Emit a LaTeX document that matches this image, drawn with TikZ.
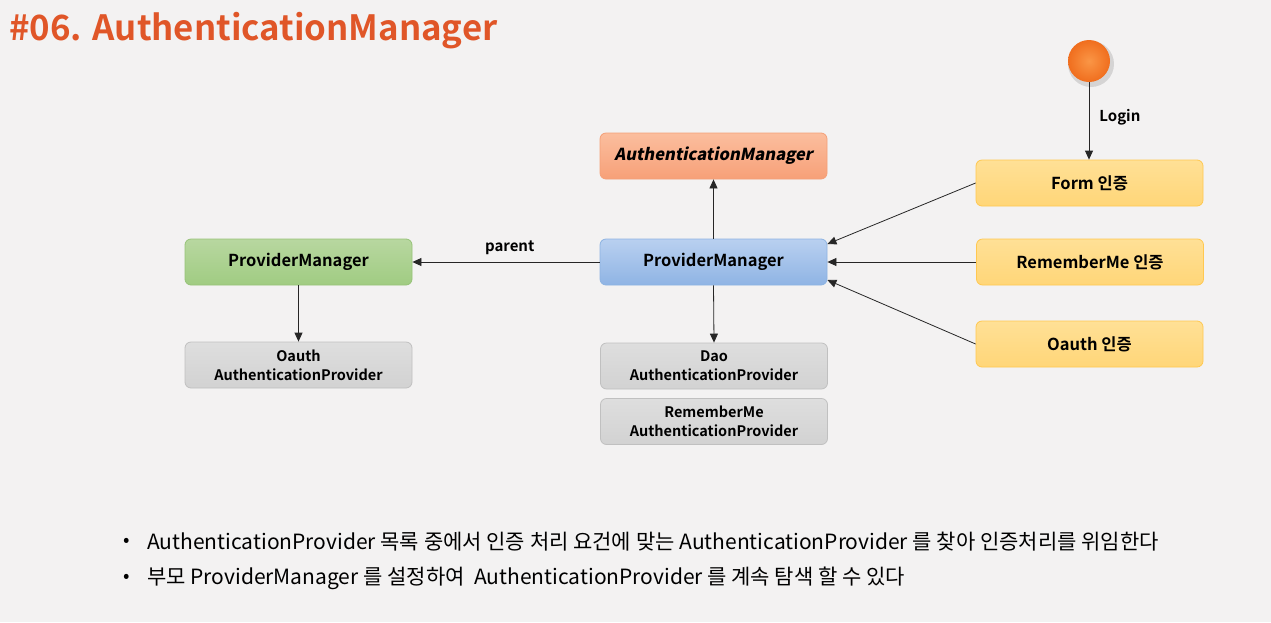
\documentclass[tikz,border=0pt]{standalone}
\usepackage{fontspec}
\setmainfont{Noto Sans CJK KR}[BoldFont=* Bold]
\newfontfamily\bifont{Noto Sans CJK KR}[UprightFont=* Bold, FakeSlant=0.2]
\usetikzlibrary{arrows.meta,shadings}
\definecolor{bgc}{RGB}{243,242,242}
\definecolor{titlec}{RGB}{224,86,40}
\definecolor{salmonT}{RGB}{251,190,158}
\definecolor{salmonB}{RGB}{247,160,120}
\definecolor{salmonD}{RGB}{244,160,120}
\definecolor{blueT}{RGB}{185,208,240}
\definecolor{blueB}{RGB}{143,180,228}
\definecolor{blueD}{RGB}{141,179,226}
\definecolor{greenT}{RGB}{184,215,160}
\definecolor{greenB}{RGB}{160,204,130}
\definecolor{greenD}{RGB}{150,195,120}
\definecolor{grayT}{RGB}{222,222,222}
\definecolor{grayB}{RGB}{210,210,210}
\definecolor{grayD}{RGB}{192,192,192}
\definecolor{yelT}{RGB}{255,224,150}
\definecolor{yelB}{RGB}{255,214,120}
\definecolor{yelD}{RGB}{255,200,80}
\definecolor{orgT}{RGB}{250,150,70}
\definecolor{orgB}{RGB}{240,110,30}
\tikzset{
  box/.style={rounded corners=6pt, minimum width=227pt, minimum height=46pt, inner sep=0pt, align=center, font=\fontsize{16.5}{19}\selectfont\bfseries, line width=0.8pt},
  salmonbox/.style={box, draw=salmonD, top color=salmonT, bottom color=salmonB},
  bluebox/.style={box, draw=blueD, top color=blueT, bottom color=blueB},
  greenbox/.style={box, draw=greenD, top color=greenT, bottom color=greenB},
  graybox/.style={box, draw=grayD, top color=grayT, bottom color=grayB, font=\fontsize{14.5}{19}\selectfont\bfseries},
  yelbox/.style={box, draw=yelD, top color=yelT, bottom color=yelB},
  conn/.style={draw=black!85, line width=0.8pt, -{Triangle[length=9pt,width=8pt]}},
  lbl/.style={font=\fontsize{15}{18}\selectfont\bfseries, inner sep=0pt},
  bul/.style={font=\fontsize{21}{24}\selectfont, anchor=west, inner sep=0pt}
}
\begin{document}
\begin{tikzpicture}[x=1pt,y=-1pt]
\fill[bgc] (0,0) rectangle (1271,622);
\useasboundingbox (0,0) rectangle (1271,622);
\node[anchor=west, inner sep=0pt, text=titlec, font=\fontsize{34.8}{40}\selectfont\bfseries] (title) at (9,31) {\#06. AuthenticationManager};
% nodes
\node[salmonbox] (am) at (713.5,156) {\bifont AuthenticationManager};
\node[bluebox] (pm) at (713.5,262) {ProviderManager};
\node[greenbox] (gpm) at (298.5,262) {ProviderManager};
\node[graybox] (oap) at (298.5,365) {Oauth\\AuthenticationProvider};
\node[graybox] (dap) at (714,366) {Dao\\AuthenticationProvider};
\node[graybox] (rap) at (714,421.5) {RememberMe\\AuthenticationProvider};
\node[yelbox] (form) at (1089.5,183) {Form 인증};
\node[yelbox] (rem) at (1090,262) {RememberMe 인증};
\node[yelbox] (oa) at (1089.5,344) {Oauth 인증};
% orange start circle
\fill[black, opacity=0.12] (1091,64) circle (23pt);
\node[circle, minimum size=42pt, inner sep=0pt, shading=radial, inner color=orgT, outer color=orgB] (start) at (1089,61) {};
% connectors
\draw[conn] (start) -- node[lbl, right=10pt, pos=0.45] {Login} (form.north -| start);
\draw[conn] (pm) -- (am);
\draw[conn] (pm) -- node[lbl, above=7pt, pos=0.48] {parent} (gpm);
\draw[conn] (gpm) -- (oap);
\draw[conn] (pm.south) -- (dap.north);
\draw[conn] (form.west) -- ([yshift=18pt]pm.east);
\draw[conn] (rem.west) -- (pm.east);
\draw[conn] (oa.west) -- ([yshift=-18pt]pm.east);
% bullets
\node[bul] (b1) at (147,542) {AuthenticationProvider 목록 중에서 인증 처리 요건에 맞는 AuthenticationProvider 를 찾아 인증처리를 위임한다};
\node[bul] (b2) at (147,578) {부모 ProviderManager 를 설정하여 \ AuthenticationProvider 를 계속 탐색 할 수 있다};
\node[font=\fontsize{19}{22}\selectfont, inner sep=0pt] (d1) at (127,542) {•};
\node[font=\fontsize{19}{22}\selectfont, inner sep=0pt] (d2) at (127,578) {•};
\end{tikzpicture}
\end{document}
